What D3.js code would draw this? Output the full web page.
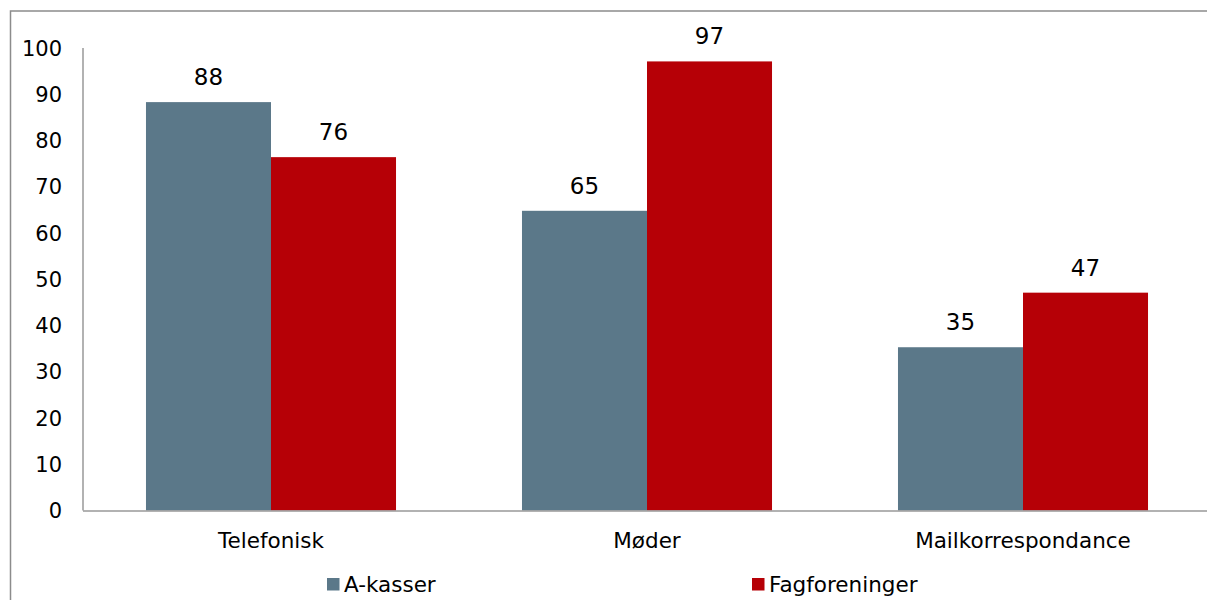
<!DOCTYPE html>
<html>
<head>
<meta charset="utf-8">
<script src="https://cdn.jsdelivr.net/npm/d3@7"></script>
<style>
    body { margin: 0; background: #fff; }
    svg { display: block; font-family: 'DejaVu Sans', Verdana, sans-serif; }
</style>
</head>
<body>
<div id="chart"></div>
<script>
const categories = ['Telefonisk', 'Møder', 'Mailkorrespondance']
const series = ['A-kasser', 'Fagforeninger']
const akasser = [88.3, 64.8, 35.3]
const fagforeninger = [76.4, 97.1, 47.1]
const yTicks = [0, 10, 20, 30, 40, 50, 60, 70, 80, 90, 100]

const COLORS = ['#5b7889', '#b60006']
const WIDTH = 1207
const HEIGHT = 600

const values = [akasser, fagforeninger]
const rows = categories.map((c, i) => ({
    category: c,
    bars: series.map((s, j) => ({ series: s, value: values[j][i], color: COLORS[j] }))
}))

const svg = d3.select('#chart')
    .append('svg')
    .attr('width', WIDTH)
    .attr('height', HEIGHT)

// Outer chart frame, runs past the right and bottom edge
svg.append('rect')
    .attr('x', 10.5)
    .attr('y', 11)
    .attr('width', WIDTH + 20)
    .attr('height', HEIGHT + 20)
    .attr('fill', 'none')
    .attr('stroke', '#8c8c8c')
    .attr('stroke-width', 1.5)

// Plot area is wider than the picture, last category gets clipped
const x0 = 83
const step = 376
const x = d3.scaleBand()
    .domain(categories)
    .range([x0, x0 + step * categories.length])
    .paddingInner(0.335)
    .paddingOuter(0.335 / 2)

const xs = d3.scaleBand()
    .domain(series)
    .range([0, x.bandwidth()])

const y = d3.scaleLinear()
    .domain([0, 100])
    .range([510.5, 48])

// Y axis labels
svg.append('g')
    .selectAll('text')
    .data(yTicks)
    .enter()
    .append('text')
    .attr('x', 62)
    .attr('y', d => y(d))
    .attr('dy', '0.36em')
    .attr('text-anchor', 'end')
    .attr('font-size', 21)
    .attr('fill', '#000')
    .text(d => d)

// Bars
const group = svg.append('g')
    .selectAll('.cat')
    .data(rows)
    .enter()
    .append('g')
    .attr('class', 'cat')
    .attr('transform', d => `translate(${x(d.category)},0)`)

group.selectAll('rect')
    .data(d => d.bars)
    .enter()
    .append('rect')
    .attr('x', d => xs(d.series))
    .attr('y', d => y(d.value))
    .attr('width', xs.bandwidth())
    .attr('height', d => y(0) - y(d.value))
    .attr('fill', d => d.color)

group.selectAll('.val')
    .data(d => d.bars)
    .enter()
    .append('text')
    .attr('class', 'val')
    .attr('x', d => xs(d.series) + xs.bandwidth() / 2)
    .attr('y', d => y(d.value) - 17)
    .attr('text-anchor', 'middle')
    .attr('font-size', 23)
    .attr('fill', '#000')
    .text(d => Math.round(d.value))

// Axis lines
svg.append('line')
    .attr('x1', x0).attr('x2', x0)
    .attr('y1', y(100)).attr('y2', y(0))
    .attr('stroke', '#999')
    .attr('stroke-width', 1.5)

svg.append('line')
    .attr('x1', x0).attr('x2', WIDTH + 10)
    .attr('y1', y(0) + 0.5).attr('y2', y(0) + 0.5)
    .attr('stroke', '#999')
    .attr('stroke-width', 1.5)

// Category labels
svg.append('g')
    .selectAll('text')
    .data(categories)
    .enter()
    .append('text')
    .attr('x', d => x(d) + x.bandwidth() / 2)
    .attr('y', 547.5)
    .attr('text-anchor', 'middle')
    .attr('font-size', 21.5)
    .attr('fill', '#000')
    .text(d => d)

// Legend
const legendX = [327, 752]
const legend = svg.append('g')
    .selectAll('g')
    .data(series)
    .enter()
    .append('g')
    .attr('transform', (d, i) => `translate(${legendX[i]},578)`)

legend.append('rect')
    .attr('width', 12.5)
    .attr('height', 12.5)
    .attr('fill', (d, i) => COLORS[i])

legend.append('text')
    .attr('x', 17)
    .attr('y', 13.5)
    .attr('font-size', 21.5)
    .attr('fill', '#000')
    .text(d => d)
</script>
</body>
</html>
